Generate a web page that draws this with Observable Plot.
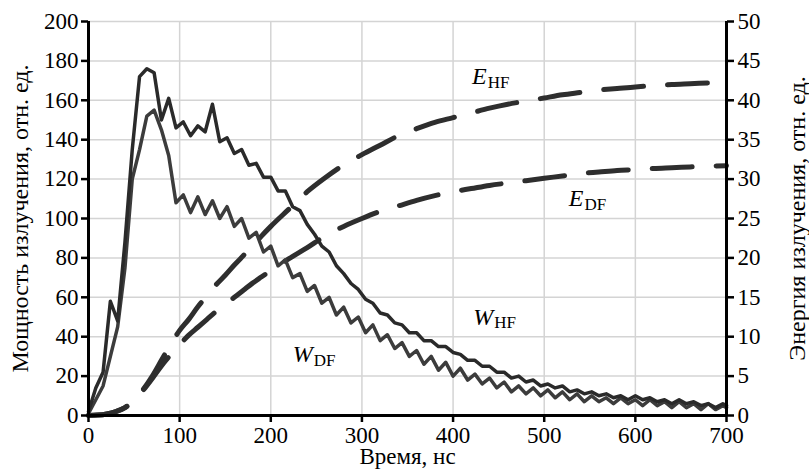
<!DOCTYPE html>
<html><head><meta charset="utf-8">
<script src="https://cdn.jsdelivr.net/npm/d3@7"></script>
<script src="https://cdn.jsdelivr.net/npm/@observablehq/plot@0.6"></script>
<style>body{margin:0;background:#fff}</style>
</head><body><div id="chart"></div>
<script>
// ---- data ----
const wTime = [0,8,16,24,32,40,48,56,64,72,80,88,96,104,112,120,128,136,144,152,160,168,176,184,192,200,208,216,224,232,240,248,256,264,272,280,288,296,304,312,320,328,336,344,352,360,368,376,384,392,400,408,416,424,432,440,448,456,464,472,480,488,496,504,512,520,528,536,544,552,560,568,576,584,592,600,608,616,624,632,640,648,656,664,672,680,688,696,700];
const wHF = [2,14,22,58,48,88,135,172,176,174,150,161,146,149,142,147,144,158,139,141,133,135,127,128,121,121,114,114,106,104,97,92,86,83,76,72,67,64,59,57,52,51,47,46,42,42,38,38,35,35,32,31,28,28,25,25,22,22,19,20,17,18,15,16,14,15,12,13,11,12,10,11,9,10,8,10,8,9,7,8,6,8,6,7,5,6,4,6,5];
const wDF = [1,8,15,30,45,75,120,135,152,155,145,132,108,112,103,111,102,109,100,106,96,100,90,93,83,86,76,79,70,72,63,66,57,60,51,55,47,50,42,46,38,41,34,37,30,33,26,30,23,27,20,24,18,21,16,19,14,17,12,15,11,14,10,13,9,12,8,11,7,10,7,9,6,9,6,8,5,8,5,7,4,7,4,6,3,6,3,5,4];
const eTime = [0,10,20,30,40,50,60,70,80,90,100,110,120,130,140,150,160,170,180,190,200,220,240,260,280,300,320,340,360,380,400,420,440,460,480,500,520,540,560,580,600,620,640,660,680,700];
const eHF = [0,0.05,0.2,0.5,1.0,2.0,3.3,5.0,7.0,9.0,10.8,12.2,13.8,15.2,16.6,17.8,19.1,20.3,21.5,22.8,24.0,26.2,28.4,30.2,31.8,33.1,34.3,35.5,36.4,37.2,37.8,38.4,39.0,39.5,39.9,40.3,40.7,41.0,41.3,41.5,41.7,41.85,42.0,42.1,42.2,42.3];
const eDF = [0,0.05,0.2,0.5,1.0,1.9,3.2,4.7,6.3,7.7,9.0,10.2,11.2,12.2,13.2,14.1,15.0,15.9,16.8,17.6,18.4,19.9,21.3,22.8,24.0,25.0,25.9,26.6,27.3,27.9,28.4,28.8,29.2,29.5,29.8,30.1,30.4,30.7,30.9,31.1,31.2,31.35,31.45,31.55,31.65,31.7];
const xTicks = [0,100,200,300,400,500,600,700];
const yTicks = [0,20,40,60,80,100,120,140,160,180,200];
const eTicks = [0,5,10,15,20,25,30,35,40,45,50];
const labelMain = ["E","E","W","W"];
const labelSub = ["HF","DF","HF","DF"];
const labelT = [437,543,444,246];
const labelV = [172,110,50,31];
const titleLeft = "Мощность излучения, отн. ед.";
const titleRight = "Энергия излучения, отн. ед.";
const titleX = "Время, нс";

// ---- build ----
const FONT = "Liberation Serif";
const E2W = 4; // energy axis 0..50 maps onto power axis 0..200
const wRows = wTime.map((t, i) => ({t, hf: wHF[i], df: wDF[i]}));
const eRows = eTime.map((t, i) => ({t, hf: eHF[i], df: eDF[i]}));
const labels = labelMain.map((m, i) => ({m, s: labelSub[i], t: labelT[i], v: labelV[i]}));

const plot = Plot.plot({
  width: 809, height: 475,
  marginLeft: 88, marginRight: 83, marginTop: 21, marginBottom: 60,
  x: {domain: [0, 700]},
  y: {domain: [0, 200]},
  style: {fontFamily: FONT, fontSize: "23px", color: "#000", background: "#fff"},
  marks: [
    Plot.gridX(xTicks, {stroke: "#d4d4d4", strokeOpacity: 1, strokeWidth: 1.5}),
    Plot.gridY(yTicks, {stroke: "#d4d4d4", strokeOpacity: 1, strokeWidth: 1.5}),
    Plot.line(eRows, {x: "t", y: d => d.hf * E2W, stroke: "#2e2e2e", strokeWidth: 5, strokeDasharray: "40,24", strokeLinecap: "round", curve: "monotone-x"}),
    Plot.line(eRows, {x: "t", y: d => d.df * E2W, stroke: "#2e2e2e", strokeWidth: 5, strokeDasharray: "40,24", strokeLinecap: "round", curve: "monotone-x"}),
    Plot.line(wRows, {x: "t", y: "df", stroke: "#3c3c3c", strokeWidth: 3.5, strokeLinejoin: "round"}),
    Plot.line(wRows, {x: "t", y: "hf", stroke: "#2a2a2a", strokeWidth: 3.5, strokeLinejoin: "round"}),
    Plot.axisX({ticks: xTicks, tickSize: 7, tickPadding: 4, strokeWidth: 2.5, label: null, tickFormat: d => d}),
    Plot.axisY({ticks: yTicks, tickSize: 7, tickPadding: 3, strokeWidth: 2.5, label: null, tickFormat: d => d}),
    Plot.axisY({anchor: "right", ticks: eTicks.map(e => e * E2W), tickSize: 7, tickPadding: 4, strokeWidth: 2.5, label: null, tickFormat: d => d / E2W}),
    Plot.ruleX([0], {stroke: "#000", strokeWidth: 3}),
    Plot.ruleX([700], {stroke: "#000", strokeWidth: 3}),
    Plot.ruleY([0], {stroke: "#000", strokeWidth: 3}),
    Plot.text(labels, {x: "t", y: "v", text: "m", textAnchor: "end", fontStyle: "italic", fontSize: 24, fill: "#000", stroke: "#fff", strokeWidth: 6}),
    Plot.text(labels, {x: "t", y: "v", text: "s", textAnchor: "start", dy: 6, dx: 1, fontSize: 17, fill: "#000", stroke: "#fff", strokeWidth: 6}),
    Plot.text([titleLeft], {frameAnchor: "left", textAnchor: "middle", rotate: -90, dx: -68, fontSize: 24, fill: "#000"}),
    Plot.text([titleRight], {frameAnchor: "right", textAnchor: "middle", rotate: -90, dx: 71, fontSize: 24, fill: "#000"}),
    Plot.text([titleX], {frameAnchor: "bottom", textAnchor: "middle", dy: 48, fill: "#000"})
  ]
});
plot.querySelectorAll("text").forEach(t => { t.style.fontFamily = FONT; });
document.getElementById("chart").appendChild(plot);
</script>
</body></html>
